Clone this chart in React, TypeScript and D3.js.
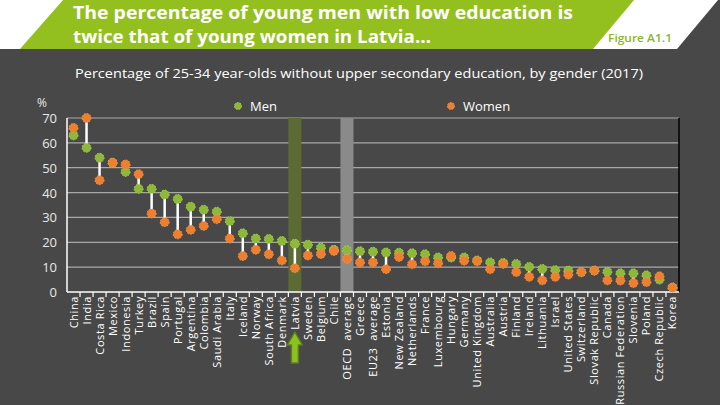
import React, { useEffect, useRef } from "react";
import * as d3 from "d3";

const countries = [
  "China", "India", "Costa Rica", "Mexico", "Indonesia", "Turkey", "Brazil", "Spain",
  "Portugal", "Argentina", "Colombia", "Saudi Arabia", "Italy", "Iceland", "Norway",
  "South Africa", "Denmark", "Latvia", "Sweden", "Belgium", "Chile", "OECD  average",
  "Greece", "EU23  average", "Estonia", "New Zealand", "Netherlands", "France",
  "Luxembourg", "Hungary", "Germany", "United Kingdom", "Australia", "Austria", "Finland",
  "Ireland", "Lithuania", "Israel", "United States", "Switzerland", "Slovak Republic",
  "Canada", "Russian Federation", "Slovenia", "Poland", "Czech Republic", "Korea",
];

const menValues = [
  63, 58, 54, 52, 48.3, 41.5, 41.5, 39.2, 37.4, 34.3, 33.1, 32.3, 28.5, 23.6, 21.5,
  21.3, 20.5, 19.4, 19, 17.8, 17, 16.8, 16.4, 16.2, 15.9, 15.8, 15.6, 15.2, 13.9, 13.9,
  13.9, 12.7, 11.9, 11.7, 11.3, 10.1, 9.3, 8.8, 8.6, 8.0, 8.6, 8.1, 7.5, 7.5, 6.7, 5.0, 1.8,
];

const womenValues = [
  66, 70, 45, 52, 51.3, 47.4, 31.6, 28.1, 23.2, 25, 26.6, 29.3, 21.5, 14.5, 17, 15.2,
  12.7, 9.6, 14.7, 15.3, 16.5, 13.3, 11.9, 11.9, 9.2, 14.1, 11.2, 12.4, 11.6, 14.5, 12.6,
  12.4, 9.2, 11.3, 8.0, 6.1, 4.7, 6.1, 7.0, 8.0, 8.6, 4.7, 4.6, 3.6, 4.0, 6.3, 1.8,
];

const yTicks = [0, 10, 20, 30, 40, 50, 60, 70];
const seriesNames = ["Men", "Women"];
const highlightCountry = "Latvia";
const averageCountry = "OECD  average";

const titleLines = [
  "The percentage of young men with low education is",
  "twice that of young women in Latvia\u2026",
];
const subtitle =
  "Percentage of 25-34 year-olds without upper secondary education, by gender (2017)";
const figureLabel = "Figure A1.1";

const W = 720;
const H = 405;
const BG = "#484848";
const GREEN = "#93c01f";
const MEN = "#8db83a";
const WOMEN = "#ee7f30";

export default function App() {
  const ref = useRef<SVGSVGElement | null>(null);

  useEffect(() => {
    const svg = d3.select(ref.current);
    svg.selectAll("*").remove();

    const x = d3.scaleBand<string>().domain(countries).range([67, 679]).padding(0);
    const y = d3.scaleLinear().domain([0, 70]).range([292, 118]);

    // background
    svg.append("rect").attr("width", W).attr("height", H).attr("fill", BG);
    svg.append("rect").attr("width", W).attr("height", 49).attr("fill", "#ffffff");
    svg.append("polygon").attr("points", "63,0 634,0 593,49 20,49").attr("fill", GREEN);
    svg.append("polygon").attr("points", "718,0 720,0 720,49 677,49").attr("fill", BG);

    const titleWidths = [500, 358];
    titleLines.forEach((t, i) => {
      svg.append("text").attr("x", 73).attr("y", 19 + i * 24).text(t)
        .attr("fill", "#ffffff").attr("font-family", "'Open Sans', sans-serif")
        .attr("font-weight", 700).attr("font-size", 18)
        .attr("textLength", titleWidths[i]).attr("lengthAdjust", "spacingAndGlyphs");
    });
    svg.append("text").attr("x", 608).attr("y", 42).text(figureLabel)
      .attr("fill", "#8db52a").attr("font-family", "'Open Sans', sans-serif")
      .attr("font-weight", 600).attr("font-size", 11).attr("textLength", 64)
      .attr("lengthAdjust", "spacingAndGlyphs");

    svg.append("text").attr("x", 75).attr("y", 78).text(subtitle)
      .attr("fill", "#ffffff")
      .attr("font-family", "'Open Sans', sans-serif").attr("font-size", 13.5)
      .attr("textLength", 568).attr("lengthAdjust", "spacingAndGlyphs");

    // gridlines
    const g = svg.append("g");
    g.selectAll("line.grid").data(yTicks.filter((d) => d > 0)).join("line")
      .attr("x1", 67).attr("x2", 679)
      .attr("y1", (d) => y(d)).attr("y2", (d) => y(d))
      .attr("stroke", "#a8a8a8").attr("stroke-width", 1.2);

    // highlight bands
    g.append("rect").attr("x", x(highlightCountry)!).attr("y", y(70))
      .attr("width", x.bandwidth()).attr("height", y(0) - y(70)).attr("fill", "#5c6a34");
    g.append("rect").attr("x", x(averageCountry)!).attr("y", y(70))
      .attr("width", x.bandwidth()).attr("height", y(0) - y(70)).attr("fill", "#8a8a8a");

    // y labels
    g.selectAll("text.ylab").data(yTicks).join("text")
      .attr("x", 57).attr("y", (d) => y(d) + 5).attr("text-anchor", "end")
      .text((d) => String(d)).attr("fill", "#e8e8e8")
      .attr("font-family", "'Open Sans', sans-serif").attr("font-size", 13);
    g.append("text").attr("x", 37).attr("y", 107).text("%").attr("fill", "#e8e8e8")
      .attr("font-family", "'Open Sans', sans-serif").attr("font-size", 12);

    // axes
    g.append("line").attr("x1", 67).attr("x2", 67).attr("y1", y(70)).attr("y2", y(0))
      .attr("stroke", "#ffffff").attr("stroke-width", 1.5);
    g.append("line").attr("x1", 679).attr("x2", 679).attr("y1", y(70)).attr("y2", y(0))
      .attr("stroke", "#000000").attr("stroke-width", 1.5);
    g.append("line").attr("x1", 67).attr("x2", 679).attr("y1", y(0)).attr("y2", y(0))
      .attr("stroke", "#ffffff").attr("stroke-width", 1.5);
    g.selectAll("line.tick").data(countries.slice(1)).join("line")
      .attr("x1", (d) => x(d)!).attr("x2", (d) => x(d)!)
      .attr("y1", y(0)).attr("y2", y(0) + 5)
      .attr("stroke", "#ffffff").attr("stroke-width", 1.2);

    // category labels
    g.selectAll("text.cat").data(countries).join("text")
      .attr("transform", (d) => `translate(${x(d)! + x.bandwidth() / 2 + 4},${y(0) + 4}) rotate(-90)`)
      .attr("text-anchor", "end").text((d) => d).attr("fill", "#ffffff")
      .attr("font-family", "'Open Sans', sans-serif").attr("font-size", 11)
      .attr("letter-spacing", 0.6)
      .style("white-space", "pre");

    // connector lines
    const data = countries.map((c, i) => ({ c, m: menValues[i], w: womenValues[i] }));
    g.selectAll("line.conn").data(data).join("line")
      .attr("x1", (d) => x(d.c)! + x.bandwidth() / 2).attr("x2", (d) => x(d.c)! + x.bandwidth() / 2)
      .attr("y1", (d) => y(d.m)).attr("y2", (d) => y(d.w))
      .attr("stroke", "#ffffff").attr("stroke-width", 2.5);

    const dot = (sel: any, color: string) =>
      sel.attr("r", 4.5).attr("fill", color).attr("stroke", d3.color(color)!.brighter(0.5).toString())
        .attr("stroke-width", 1).attr("stroke-dasharray", "1.5,1.5");

    dot(g.selectAll("circle.men").data(data).join("circle")
      .attr("cx", (d: any) => x(d.c)! + x.bandwidth() / 2).attr("cy", (d: any) => y(d.m)), MEN);
    dot(g.selectAll("circle.women").data(data).join("circle")
      .attr("cx", (d: any) => x(d.c)! + x.bandwidth() / 2).attr("cy", (d: any) => y(d.w)), WOMEN);

    // legend
    const legendX = [238, 451];
    seriesNames.forEach((s, i) => {
      dot(g.append("circle").attr("cx", legendX[i]).attr("cy", 106), i === 0 ? MEN : WOMEN)
        .attr("r", 3.5);
      g.append("text").attr("x", legendX[i] + 12).attr("y", 111).text(s)
        .attr("fill", "#ffffff").attr("font-family", "'Open Sans', sans-serif").attr("font-size", 13);
    });

    // arrow under Latvia
    const ax = x(highlightCountry)! + x.bandwidth() / 2;
    const arrowPts: [number, number][] = [
      [ax, 332], [ax + 7.5, 345], [ax + 3.5, 345], [ax + 3.5, 363],
      [ax - 3.5, 363], [ax - 3.5, 345], [ax - 7.5, 345],
    ];
    g.append("polygon").attr("points", arrowPts.map((p) => p.join(",")).join(" "))
      .attr("fill", "#8cc21c").attr("stroke", "#5f7d22").attr("stroke-width", 1.5)
      .attr("stroke-linejoin", "round");
  }, []);

  return (
    <svg
      ref={ref}
      width={W}
      height={H}
      style={{ position: "absolute", left: 0, top: 0, display: "block" }}
    />
  );
}
